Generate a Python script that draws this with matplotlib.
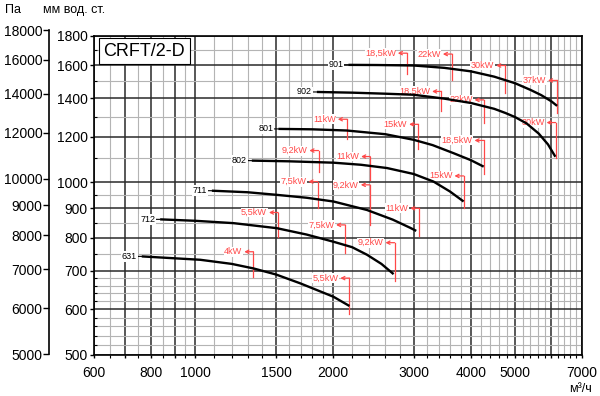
import matplotlib

matplotlib.use("Agg")
import matplotlib.pyplot as plt
from matplotlib.ticker import FixedFormatter, FixedLocator, NullFormatter, NullLocator

plt.rcParams["font.family"] = ["Liberation Sans", "DejaVu Sans"]

# fan curves: flow (m3/h) -> pressure (mm w.c.)
q_901 = [2160, 2500, 3000, 3500, 4000, 4500, 5000, 5400, 5700, 6000, 6175]
h_901 = [1601, 1600, 1597, 1582, 1560, 1527, 1487, 1448, 1418, 1383, 1358]
q_902 = [1843, 2200, 2600, 3000, 3500, 4000, 4500, 4758, 5000, 5300, 5630, 5900, 6122]
h_902 = [1436, 1432, 1426, 1420, 1398, 1374, 1342, 1320, 1298, 1265, 1215, 1163, 1107]
q_801 = [1518, 1800, 2144, 2600, 3000, 3300, 3667, 4000, 4267]
h_801 = [1238, 1236, 1230, 1212, 1185, 1160, 1123, 1092, 1064]
q_802 = [1328, 1600, 2003, 2300, 2623, 3000, 3315, 3600, 3857]
h_802 = [1090, 1087, 1081, 1072, 1058, 1033, 1002, 963, 925]
q_711 = [1086, 1300, 1506, 1750, 2003, 2371, 2700, 2950, 3039]
h_711 = [966, 960, 950, 939, 925, 894, 860, 832, 822]
q_712 = [837, 1000, 1211, 1506, 1750, 2003, 2200, 2371, 2550, 2711]
h_712 = [861, 856, 848, 831, 810, 787, 770, 747, 720, 691]
q_631 = [763, 1024, 1200, 1339, 1500, 1694, 2003, 2171]
h_631 = [742, 732, 720, 707, 690, 666, 631, 608]

curves = [
    ("901", q_901, h_901),
    ("902", q_902, h_902),
    ("801", q_801, h_801),
    ("802", q_802, h_802),
    ("711", q_711, h_711),
    ("712", q_712, h_712),
    ("631", q_631, h_631),
]

# motor power marks: label, flow, top and bottom of the red line
power_labels = ["18,5kW", "22kW", "30kW", "37kW",
                "18,5kW", "22kW", "30kW",
                "11kW", "15kW", "18,5kW",
                "9,2kW", "11kW", "15kW",
                "7,5kW", "9,2kW", "11kW",
                "5,5kW", "7,5kW", "9,2kW",
                "4kW", "5,5kW"]
power_q = [2900, 3638, 4758, 6175,
           3446, 4267, 6131,
           2144, 3070, 4267,
           1858, 2411, 3857,
           1849, 2407, 3086,
           1516, 2125, 2725,
           1339, 2171]
power_top = [1678, 1672, 1597, 1504,
             1439, 1391, 1270,
             1287, 1261, 1182,
             1135, 1108, 1025,
             1002, 989, 900,
             885, 842, 784,
             756, 680]
power_bottom = [1543, 1504, 1429, 1319,
                1328, 1267, 1102,
                1188, 1141, 1034,
                1043, 1009, 900,
                900, 842, 805,
                803, 752, 671,
                684, 589]

x_major = [600, 700, 800, 900, 1000, 1500, 2000, 3000, 4000, 5000, 6000, 7000]
x_labels = ["600", "", "800", "", "1000", "1500", "2000", "3000", "4000", "5000", "", "7000"]
y_major = [500, 600, 700, 800, 900, 1000, 1200, 1400, 1600, 1800]
pa_ticks = [5000, 6000, 7000, 8000, 9000, 10000, 12000, 14000, 16000, 18000]

x_minor = ([650, 750, 850, 950] + list(range(1100, 1500, 100)) + list(range(1600, 2000, 100))
           + list(range(2200, 3000, 200)) + list(range(3200, 4000, 200))
           + list(range(4200, 5000, 200)) + list(range(5200, 6000, 200))
           + list(range(6200, 7000, 200)))
y_minor = ([v for v in range(520, 700, 20) if v != 600] + [750, 850, 950]
           + [1100, 1300, 1500, 1700])

red = "#ff4848"

fig = plt.figure(figsize=(6, 3.96), dpi=100)
ax = fig.add_axes([94 / 600, 1 - 354.7 / 396, 488 / 600, 319 / 396])
ax.set_xscale("log")
ax.set_yscale("log")
ax.set_xlim(600, 7000)
ax.set_ylim(500, 1800)

ax.xaxis.set_major_locator(FixedLocator(x_major))
ax.xaxis.set_major_formatter(FixedFormatter(x_labels))
ax.xaxis.set_minor_locator(FixedLocator(x_minor))
ax.xaxis.set_minor_formatter(NullFormatter())
ax.yaxis.set_major_locator(FixedLocator(y_major))
ax.yaxis.set_major_formatter(FixedFormatter([str(v) for v in y_major]))
ax.yaxis.set_minor_locator(FixedLocator(y_minor))
ax.yaxis.set_minor_formatter(NullFormatter())

ax.set_axisbelow(True)
ax.grid(which="major", color="#2a2a2a", lw=1.1)
ax.grid(which="minor", color="#b4b4b4", lw=0.8)
for s in ax.spines.values():
    s.set_linewidth(1.2)
ax.tick_params(axis="x", which="major", length=2.5, width=1, labelsize=10, pad=5.5)
ax.tick_params(axis="x", which="minor", length=2, width=0.8, direction="out")
ax.tick_params(axis="y", which="major", length=3, width=1, labelsize=10, pad=1.5)
ax.tick_params(axis="y", which="minor", length=2.5, width=0.8, direction="in")

for lab, q, top, bot in zip(power_labels, power_q, power_top, power_bottom):
    ax.plot([q, q], [bot, top], color=red, lw=0.9, zorder=3)
    ax.annotate(lab, xy=(q, top), xytext=(-11, 0), textcoords="offset pixels",
                ha="right", va="center", fontsize=6.6, color=red, zorder=3.5,
                bbox=dict(fc="white", ec="none", pad=0.3),
                arrowprops=dict(arrowstyle="<-,head_length=0.35,head_width=0.18",
                                color=red, lw=0.9, shrinkA=1, shrinkB=0))

for name, q, h in curves:
    ax.plot(q, h, color="black", lw=1.7, zorder=5, solid_capstyle="butt")
    ax.annotate(name, xy=(q[0], h[0]), xytext=(-5, 0), textcoords="offset pixels",
                ha="right", va="center", fontsize=6.5, zorder=6,
                bbox=dict(fc="white", ec="none", pad=0.6),
                arrowprops=dict(arrowstyle="-", lw=0.8, color="black", shrinkA=0, shrinkB=0))

# second pressure scale in Pa
ax2 = fig.add_axes([49.3 / 600, 1 - 354.3 / 396, 0.0001, 324.3 / 396])
ax2.set_yscale("log")
ax2.set_ylim(5000, 18000)
ax2.patch.set_visible(False)
for side in ["top", "right", "bottom"]:
    ax2.spines[side].set_visible(False)
ax2.spines["left"].set_linewidth(1.2)
ax2.xaxis.set_major_locator(NullLocator())
ax2.xaxis.set_minor_locator(NullLocator())
ax2.yaxis.set_major_locator(FixedLocator(pa_ticks))
ax2.yaxis.set_major_formatter(FixedFormatter([str(v) for v in pa_ticks]))
ax2.yaxis.set_minor_locator(NullLocator())
ax2.tick_params(axis="y", length=4, width=1, labelsize=10, pad=1)

fig.text(144.3 / 600, 1 - 51.3 / 396, "CRFT/2-D", ha="center", va="center", fontsize=13,
         bbox=dict(boxstyle="square,pad=0.25", fc="white", ec="black", lw=0.8), zorder=10)
fig.text(5 / 600, 1 - 10 / 396, "Па", ha="left", va="center", fontsize=9)
fig.text(43 / 600, 1 - 10 / 396, "мм вод. ст.", ha="left", va="center", fontsize=9)
fig.text(580 / 600, 1 - 389 / 396, "м³/ч", ha="center", va="center", fontsize=9)

fig.savefig("out.png", dpi=100)
